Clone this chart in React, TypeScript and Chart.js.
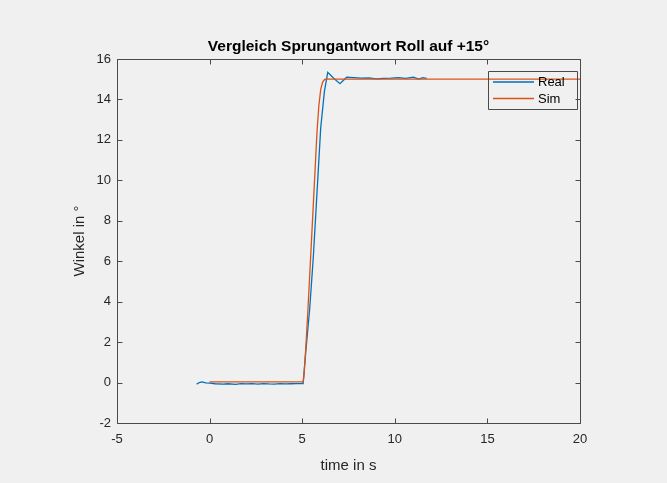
import React, { useEffect, useRef } from "react";
import { Chart, registerables } from "chart.js";

Chart.register(...registerables);

const realT = [-0.7, -0.55, -0.42, -0.2, 0.02, 0.3, 0.72, 1.0, 1.4, 1.7, 1.98, 2.3, 2.6, 2.9, 3.2, 3.5, 3.8, 4.1, 4.4, 4.7, 5.05, 5.2, 5.4, 5.6, 5.8, 6.0, 6.2, 6.38, 6.7, 7.04, 7.4, 7.8, 8.2, 8.6, 9.0, 9.4, 9.8, 10.2, 10.6, 11.0, 11.3, 11.5, 11.72];
const realY = [-0.08, 0.0, 0.03, -0.02, -0.03, -0.06, -0.08, -0.06, -0.09, -0.05, -0.07, -0.05, -0.08, -0.05, -0.07, -0.08, -0.05, -0.07, -0.06, -0.05, -0.05, 1.6, 3.6, 6.2, 9.4, 12.6, 14.4, 15.34, 15.05, 14.78, 15.1, 15.08, 15.05, 15.07, 15.02, 15.04, 15.05, 15.08, 15.04, 15.1, 15.01, 15.08, 15.04];

const simT = [0, 5.05, 5.1, 5.2, 5.3, 5.4, 5.5, 5.6, 5.7, 5.8, 5.9, 6.0, 6.1, 6.2, 6.3, 6.45, 20];
const simY = [0.03, 0.03, 0.4, 1.8, 3.44, 5.2, 7.0, 8.8, 10.6, 12.4, 13.7, 14.5, 14.85, 14.98, 15.02, 15.0, 15.0];

const xTicks = [-5, 0, 5, 10, 15, 20];
const yTicks = [-2, 0, 2, 4, 6, 8, 10, 12, 14, 16];

const seriesNames = ["Real", "Sim"];
const seriesColors = ["#0072BD", "#D95319"];

const titleText = "Vergleich Sprungantwort Roll auf +15°";
const xTitle = "time in s";
const yTitle = "Winkel in °";

const FONT = "'Liberation Sans', Arial, Helvetica, sans-serif";
const TEXT = "#262626";
const AXIS = "#4a4a4a";
const BG = "#F0F0F0";

export default function App() {
  const ref = useRef<HTMLCanvasElement>(null);

  useEffect(() => {
    document.body.style.margin = "0";
    const canvas = ref.current!;
    const decor = {
      id: "decor",
      beforeDraw(chart: any) {
        const c = chart.ctx;
        c.save();
        c.fillStyle = BG;
        c.fillRect(0, 0, chart.width, chart.height);
        c.restore();
      },
      afterDraw(chart: any) {
        const c = chart.ctx;
        const a = chart.chartArea;
        const xs = chart.scales.x;
        const ys = chart.scales.y;
        c.save();
        c.strokeStyle = AXIS;
        c.lineWidth = 1;
        const L = Math.round(a.left) + 0.5;
        const R = Math.round(a.right) + 0.5;
        const T = Math.round(a.top) + 0.5;
        const B = Math.round(a.bottom) + 0.5;
        c.beginPath();
        c.rect(L, T, R - L, B - T);
        c.stroke();
        const tl = 5;
        c.beginPath();
        xTicks.forEach((v) => {
          const px = Math.round(xs.getPixelForValue(v)) + 0.5;
          c.moveTo(px, B);
          c.lineTo(px, B - tl);
          c.moveTo(px, T);
          c.lineTo(px, T + tl);
        });
        yTicks.forEach((v) => {
          const py = Math.round(ys.getPixelForValue(v)) + 0.5;
          c.moveTo(L, py);
          c.lineTo(L + tl, py);
          c.moveTo(R, py);
          c.lineTo(R - tl, py);
        });
        c.stroke();

        c.fillStyle = "#000";
        c.font = `bold 15.5px ${FONT}`;
        c.textAlign = "center";
        c.textBaseline = "middle";
        c.fillText(titleText, (a.left + a.right) / 2, 47);
        c.fillStyle = TEXT;
        c.font = `15px ${FONT}`;
        c.fillText(xTitle, (a.left + a.right) / 2, 466);
        c.save();
        c.translate(80, (a.top + a.bottom) / 2);
        c.rotate(-Math.PI / 2);
        c.fillText(yTitle, 0, 0);
        c.restore();

        const lx = 488, ly = 71, lw = 89, lh = 38;
        c.strokeStyle = AXIS;
        c.lineWidth = 1;
        c.beginPath();
        c.rect(lx + 0.5, ly + 0.5, lw, lh);
        c.stroke();
        c.font = `13px ${FONT}`;
        c.textAlign = "left";
        seriesNames.forEach((n, i) => {
          const yy = ly + 11 + i * 16.5;
          c.strokeStyle = seriesColors[i];
          c.lineWidth = 1.3;
          c.beginPath();
          c.moveTo(lx + 5, yy);
          c.lineTo(lx + 46, yy);
          c.stroke();
          c.fillStyle = "#000";
          c.fillText(n, lx + 50, yy + 0.5);
        });
        c.restore();
      },
    };

    const chart = new Chart(canvas, {
      type: "line",
      data: {
        datasets: [
          {
            label: seriesNames[0],
            data: realT.map((t, i) => ({ x: t, y: realY[i] })),
            borderColor: seriesColors[0],
            borderWidth: 1.3,
            pointRadius: 0,
            tension: 0,
            order: 1,
          },
          {
            label: seriesNames[1],
            data: simT.map((t, i) => ({ x: t, y: simY[i] })),
            borderColor: seriesColors[1],
            borderWidth: 1.3,
            pointRadius: 0,
            tension: 0,
            order: 0,
          },
        ],
      },
      options: {
        animation: false,
        responsive: false,
        maintainAspectRatio: false,
        layout: { padding: { left: 0, top: 59, right: 87, bottom: 0 } },
        plugins: { legend: { display: false }, tooltip: { enabled: false }, title: { display: false } },
        scales: {
          x: {
            type: "linear",
            min: -5,
            max: 20,
            afterBuildTicks: (s: any) => { s.ticks = xTicks.map((v) => ({ value: v })); },
            afterFit: (s: any) => { s.height = 60; },
            grid: { display: false, drawTicks: false },
            border: { display: false },
            ticks: { color: TEXT, font: { size: 13, family: FONT }, padding: 9, maxRotation: 0, autoSkip: false },
          },
          y: {
            type: "linear",
            min: -2,
            max: 16,
            afterBuildTicks: (s: any) => { s.ticks = yTicks.map((v) => ({ value: v })); },
            afterFit: (s: any) => { s.width = 117; },
            grid: { display: false, drawTicks: false },
            border: { display: false },
            ticks: { color: TEXT, font: { size: 13, family: FONT }, padding: 6, autoSkip: false },
          },
        },
      },
      plugins: [decor],
    });
    return () => chart.destroy();
  }, []);

  return (
    <div style={{ position: "absolute", left: 0, top: 0, width: 667, height: 483 }}>
      <canvas ref={ref} width={667} height={483} style={{ width: 667, height: 483, display: "block" }} />
    </div>
  );
}
